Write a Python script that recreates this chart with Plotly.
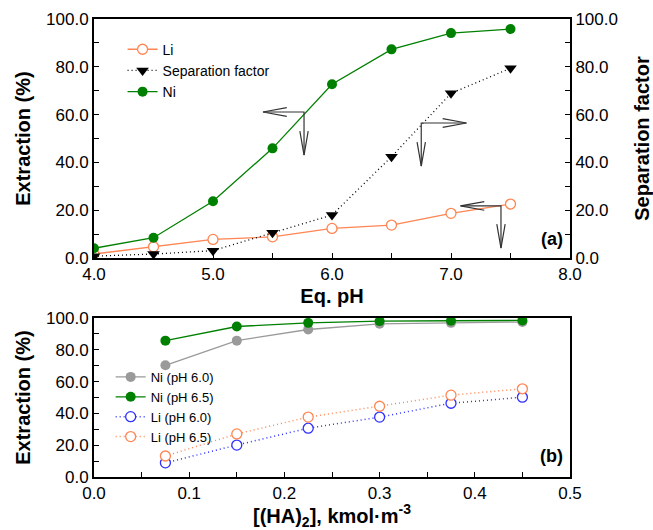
import plotly.graph_objects as go

# ---- data: panel (a) ----
ph = [4.0, 4.5, 5.0, 5.5, 6.0, 6.5, 7.0, 7.5]
li_a = [1.7, 4.7, 7.8, 8.9, 12.4, 13.8, 18.7, 22.6]
sep_a = [0.8, 1.7, 3.1, 10.6, 18.0, 42.4, 68.9, 79.4]
ni_a = [4.1, 8.5, 23.8, 45.9, 72.7, 87.3, 94.1, 95.8]

# ---- data: panel (b) ----
conc = [0.075, 0.15, 0.225, 0.3, 0.375, 0.45]
ni_60 = [70.3, 85.8, 92.8, 96.4, 97.0, 97.5]
ni_65 = [85.8, 94.7, 97.0, 98.1, 98.3, 98.5]
li_60 = [8.9, 20.1, 30.7, 37.7, 46.4, 50.2]
li_65 = [13.2, 27.1, 37.7, 44.5, 51.5, 55.5]

ORANGE = "#FF8552"
GREEN = "#008000"
GRAY = "#9A9A9A"
BLUE = "#2F2FFF"
FONT = "Liberation Sans, Arial, sans-serif"
DOT = "1px,3px"

fig = go.Figure()

# panel (a)
fig.add_trace(go.Scatter(x=ph, y=li_a, name="Li", mode="lines+markers",
                         line=dict(color=ORANGE, width=1.3),
                         marker=dict(symbol="circle", size=10, color="white",
                                     line=dict(color=ORANGE, width=1.3)),
                         xaxis="x", yaxis="y", legend="legend"))
fig.add_trace(go.Scatter(x=ph, y=sep_a, name="Separation factor", mode="lines+markers",
                         line=dict(color="black", width=1.3, dash=DOT),
                         marker=dict(symbol="triangle-down", size=11, color="black"),
                         xaxis="x", yaxis="y2", legend="legend"))
fig.add_trace(go.Scatter(x=ph, y=ni_a, name="Ni", mode="lines+markers",
                         line=dict(color=GREEN, width=1.3),
                         marker=dict(symbol="circle", size=10, color=GREEN),
                         xaxis="x", yaxis="y", legend="legend"))

# panel (b)
fig.add_trace(go.Scatter(x=conc, y=ni_60, name="Ni (pH 6.0)", mode="lines+markers",
                         line=dict(color=GRAY, width=1.3),
                         marker=dict(symbol="circle", size=10, color=GRAY),
                         xaxis="x2", yaxis="y3", legend="legend2"))
fig.add_trace(go.Scatter(x=conc, y=ni_65, name="Ni (pH 6.5)", mode="lines+markers",
                         line=dict(color=GREEN, width=1.3),
                         marker=dict(symbol="circle", size=10, color=GREEN),
                         xaxis="x2", yaxis="y3", legend="legend2"))
fig.add_trace(go.Scatter(x=conc, y=li_60, name="Li (pH 6.0)", mode="lines+markers",
                         line=dict(color=BLUE, width=1.5, dash=DOT),
                         marker=dict(symbol="circle", size=10, color="white",
                                     line=dict(color=BLUE, width=1.3)),
                         xaxis="x2", yaxis="y3", legend="legend2"))
fig.add_trace(go.Scatter(x=conc, y=li_65, name="Li (pH 6.5)", mode="lines+markers",
                         line=dict(color=ORANGE, width=1.5, dash=DOT),
                         marker=dict(symbol="circle", size=10, color="white",
                                     line=dict(color=ORANGE, width=1.3)),
                         xaxis="x2", yaxis="y3", legend="legend2"))

# ---- arrows (corner x, corner y, horizontal tip x, vertical tip y) in panel (a) data coords ----
arrows = [
    (5.765, 61.1, 5.42, 43.1),
    (6.75, 56.5, 7.13, 38.5),
    (7.42, 21.8, 7.08, 4.2),
]
shapes = []
HL_X, HW_Y = 0.2, 1.8     # horizontal head length (pH), half width (%)
HL_Y, HW_X = 10.0, 0.035  # vertical head length (%), half width (pH)
for cx, cy, hx, vy in arrows:
    line = dict(color="#333333", width=1.2)
    shapes.append(dict(type="path", xref="x", yref="y",
                       path=f"M {hx},{cy} L {cx},{cy} L {cx},{vy}", line=line))
    s = 1 if hx > cx else -1
    shapes.append(dict(type="path", xref="x", yref="y",
                       path=f"M {hx - s*HL_X},{cy + HW_Y} L {hx},{cy} L {hx - s*HL_X},{cy - HW_Y}",
                       line=line))
    shapes.append(dict(type="path", xref="x", yref="y",
                       path=f"M {cx - HW_X},{vy + HL_Y} L {cx},{vy} L {cx + HW_X},{vy + HL_Y}",
                       line=line))

tickfont = dict(family=FONT, size=17, color="black")
titlefont = dict(family=FONT, size=20, color="black", weight="bold")
common = dict(showline=True, linecolor="black", linewidth=2, ticks="inside",
              ticklen=5, tickwidth=1, tickcolor="black", showgrid=False,
              zeroline=False, tickfont=tickfont, automargin=False)

fig.update_layout(
    width=653, height=530,
    margin=dict(l=94, r=83, t=19, b=53),
    paper_bgcolor="white", plot_bgcolor="white",
    font=dict(family=FONT, color="black"),
    shapes=shapes,
    xaxis=dict(domain=[0, 1], anchor="y", range=[4, 8], dtick=1, tickformat=".1f",
               mirror=True, minor=dict(ticks="inside", dtick=0.5, ticklen=5),
               title=dict(text="Eq. pH", font=titlefont, standoff=6), **common),
    yaxis=dict(domain=[0.478, 1], anchor="x", range=[0, 100], dtick=20, tickformat=".1f",
               minor=dict(ticks="inside", dtick=10, ticklen=5),
               title=dict(text="Extraction (%)", font=titlefont, standoff=10), **common),
    yaxis2=dict(domain=[0.478, 1], anchor="x", overlaying="y", side="right",
                range=[0, 100], dtick=20, tickformat=".1f",
                minor=dict(ticks="inside", dtick=10, ticklen=5),
                title=dict(text="Separation factor", font=titlefont, standoff=20), **common),
    xaxis2=dict(domain=[0, 1], anchor="y3", range=[0, 0.5], dtick=0.1, tickformat=".1f",
                mirror=True, minor=dict(ticks="inside", dtick=0.05, ticklen=5),
                title=dict(text="[(HA)<sub>2</sub>], kmol·m<sup>-3</sup>", font=titlefont, standoff=6),
                **common),
    yaxis3=dict(domain=[0, 0.347], anchor="x2", range=[0, 100], dtick=20, tickformat=".1f",
                mirror=True, minor=dict(ticks="inside", dtick=10, ticklen=5),
                title=dict(text="Extraction (%)", font=titlefont, standoff=10), **common),
    legend=dict(x=0.06, y=0.968, xanchor="left", yanchor="top", bgcolor="rgba(0,0,0,0)",
                font=dict(family=FONT, size=14, color="black"), tracegroupgap=0,
                itemwidth=30),
    legend2=dict(x=0.035, y=0.153, xanchor="left", yanchor="middle", bgcolor="rgba(0,0,0,0)",
                 font=dict(family=FONT, size=13, color="black"), tracegroupgap=0,
                 itemwidth=30),
    annotations=[
        dict(text="<b>(a)</b>", xref="x domain", yref="y domain", x=0.99, y=0.08,
             xanchor="right", yanchor="middle", showarrow=False,
             font=dict(family=FONT, size=18, color="black")),
        dict(text="<b>(b)</b>", xref="x2 domain", yref="y3 domain", x=0.99, y=0.13,
             xanchor="right", yanchor="middle", showarrow=False,
             font=dict(family=FONT, size=18, color="black")),
    ],
)

fig.write_html("out.html")
